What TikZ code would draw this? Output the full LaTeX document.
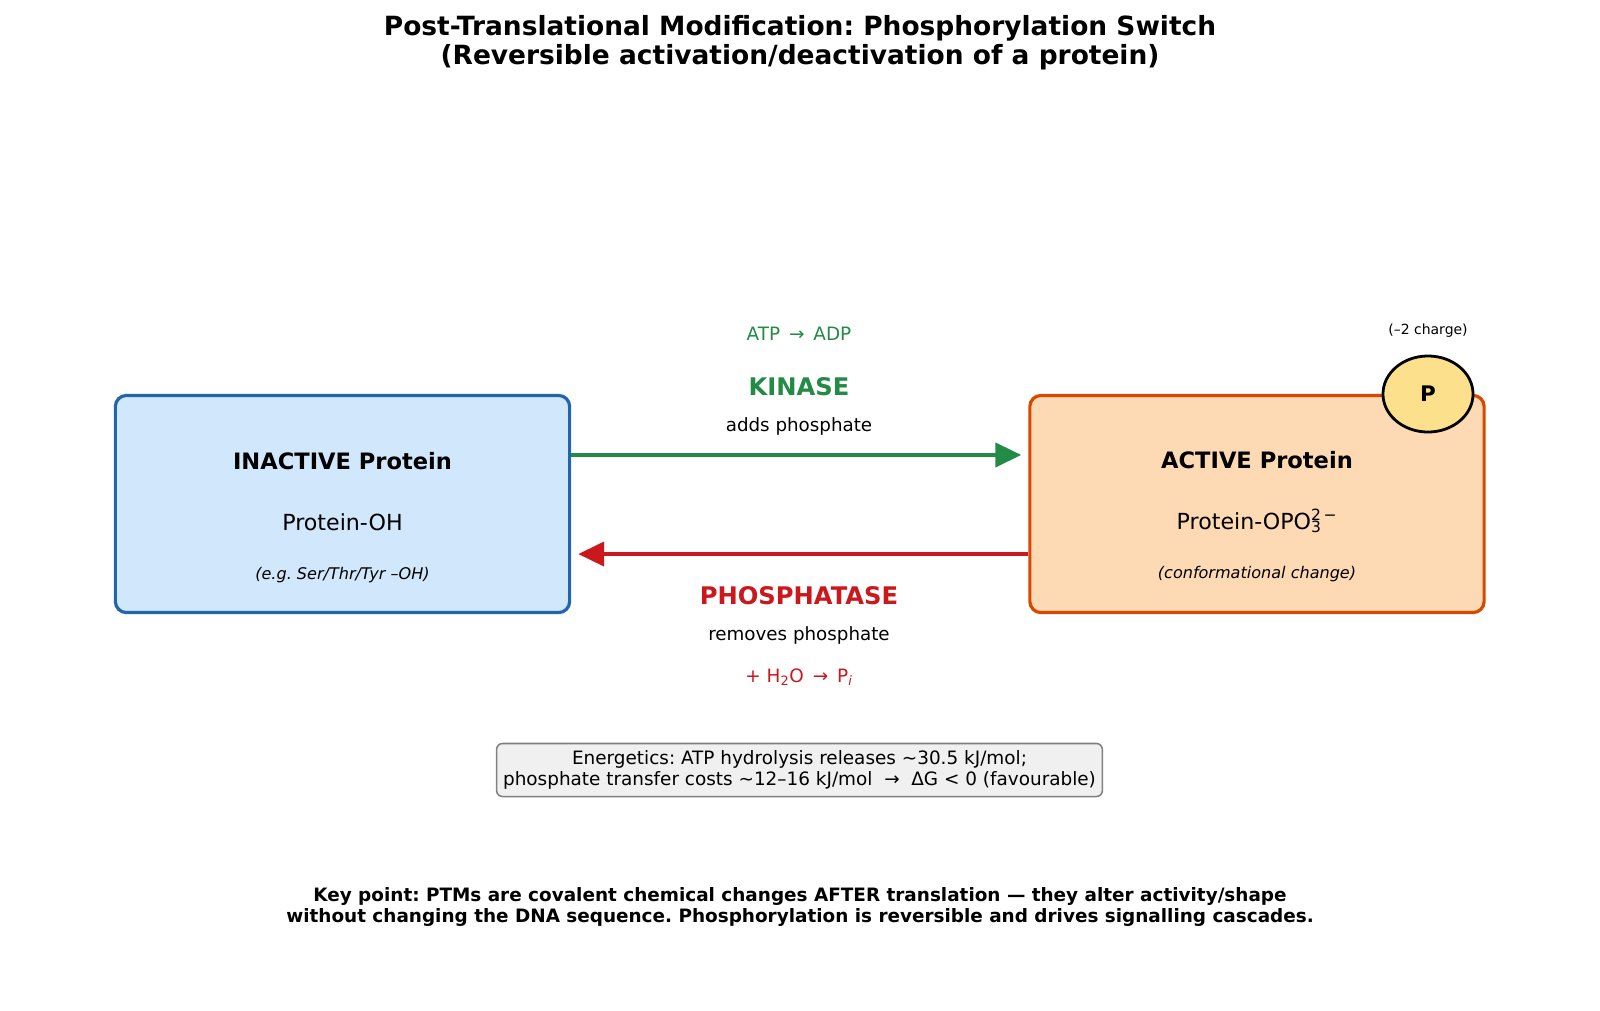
\documentclass[tikz,border=0pt]{standalone}
\usepackage{fontspec}
\setmainfont{DejaVu Sans}
\usepackage{tikz}
\usetikzlibrary{shapes.geometric, positioning, arrows.meta}
\definecolor{inedge}{HTML}{2166AC}
\definecolor{infill}{HTML}{D0E7FC}
\definecolor{actedge}{HTML}{D94801}
\definecolor{actfill}{HTML}{FDD9B4}
\definecolor{kingreen}{HTML}{238B45}
\definecolor{phosred}{HTML}{CB181D}
\definecolor{pfill}{HTML}{FCE08B}
\definecolor{notefill}{HTML}{F0F0F0}
\newcommand{\fsz}[2]{\fontsize{#1}{#2}\selectfont}
\frenchspacing

\begin{document}
\begin{tikzpicture}[x=0.01in, y=-0.01in,
    protbox/.style={draw, rounded corners=0.11in, line width=2.3pt,
      minimum width=4.54in, minimum height=2.17in},
    kinarrow/.style={kingreen, line width=3.1pt,
      -{Triangle[length=0.26in, width=0.24in]}, shorten >=0.07in},
    phosarrow/.style={phosred, line width=3.1pt,
      -{Triangle[length=0.26in, width=0.24in]}, shorten >=0.07in},
    pbubble/.style={ellipse, draw, fill=pfill, line width=2pt, inner sep=0pt,
      minimum width=0.9in, minimum height=0.76in, font=\bfseries\fsz{15.5}{18}},
    notebox/.style={draw=gray, fill=notefill, rounded corners=0.06in, line width=1.1pt,
      align=center, font=\fsz{13.3}{15.5}, inner xsep=0.065in, inner ysep=0.04in,
      minimum height=0.53in}]
  \fill[white] (0,0) rectangle (1600,1010);
  \useasboundingbox (0,0) rectangle (1600,1010);
  %
  \node[font=\bfseries\fsz{19.1}{20.6}, align=center] (title) at (800,42.5)
    {Post-Translational Modification: Phosphorylation Switch\\(Reversible activation/deactivation of a protein)};
  %
  \node[protbox, draw=inedge, fill=infill] (inactive) at (342.5,504) {};
  \node[protbox, draw=actedge, fill=actfill] (active) at (1257,504) {};
  \node[font=\bfseries\fsz{16.3}{19}, anchor=base] (intitle) at (342.5,469.3) {INACTIVE Protein};
  \node[font=\fsz{16}{19}, anchor=base] (inform) at (342.5,530) {Protein-OH};
  \node[font=\itshape\fsz{11.6}{14}, anchor=base] (innote) at (342.5,579.3) {(e.g. Ser/Thr/Tyr –OH)};
  \node[font=\bfseries\fsz{16.3}{19}, anchor=base] (acttitle) at (1257,468.3) {ACTIVE Protein};
  \node[font=\fsz{16}{19}, anchor=base] (actform) at (1257,529)
    {Protein-OPO\rlap{\textsubscript{3}}\textsuperscript{2\,−}};
  \node[font=\itshape\fsz{11.6}{14}, anchor=base] (actnote) at (1257,578) {(conformational change)};
  % phosphate group
  \node[pbubble] (phos) at (1428,394) {P};
  \node[font=\fsz{10.1}{12}, anchor=base] (charge) at (1428,334.3) {(–2 charge)};
  %
  \draw[kinarrow] ([yshift=0.49in]inactive.east) -- ([yshift=0.49in]active.west);
  \draw[phosarrow] ([yshift=-0.5in]active.west) -- ([yshift=-0.5in]inactive.east);
  \node[font=\fsz{13.3}{16}, text=kingreen, anchor=base] (atp) at (799,340.7) {ATP \,→\, ADP};
  \node[font=\bfseries\fsz{17.5}{20}, text=kingreen, anchor=base] (kinase) at (799,395) {KINASE};
  \node[font=\fsz{13.2}{16}, anchor=base] (adds) at (799,431.7) {adds phosphate};
  \node[font=\bfseries\fsz{17.5}{20}, text=phosred, anchor=base] (phosphatase) at (799,604) {PHOSPHATASE};
  \node[font=\fsz{13.2}{16}, anchor=base] (removes) at (799,640) {removes phosphate};
  \node[font=\fsz{13.3}{16}, text=phosred, anchor=base] (water) at (799,682.3)
    {+ H\textsubscript{2}O \,→\, P\textsubscript{\itshape i}};
  %
  \node[notebox] (energy) at (799.5,770)
    {Energetics: ATP hydrolysis releases \textasciitilde30.5 kJ/mol;\\
     phosphate transfer costs \textasciitilde12–16 kJ/mol \ →\ \ ΔG < 0 (favourable)};
  \node[font=\bfseries\fsz{13.3}{15.2}, align=center] (keypt) at (800,906.5)
    {Key point: PTMs are covalent chemical changes AFTER translation — they alter activity/shape\\
     without changing the DNA sequence. Phosphorylation is reversible and drives signalling cascades.};
\end{tikzpicture}
\end{document}
